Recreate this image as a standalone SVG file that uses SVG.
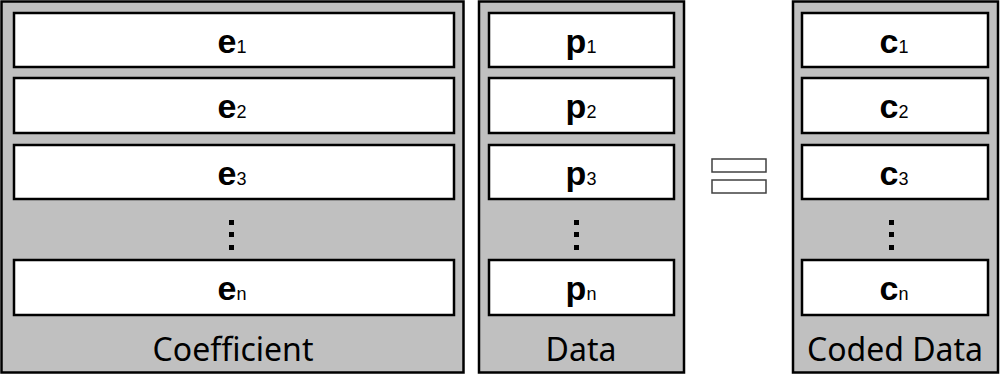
<svg xmlns="http://www.w3.org/2000/svg" width="1000" height="375" viewBox="0 0 1000 375">
<style>
.panel{fill:#c0c0c0;stroke:#000;stroke-width:2.5}
.cell{fill:#fff;stroke:#000;stroke-width:2.5}
.v{font-family:"Liberation Sans",Arial,sans-serif;font-weight:bold;font-size:34px;fill:#000}
.s{font-weight:normal;font-size:18px}
.lbl{font-family:"Noto Sans","Open Sans",sans-serif;font-size:32px;fill:#000;text-anchor:middle}
.dot{fill:#000}
.eq{fill:#fff;stroke:#404040;stroke-width:1.5}
</style>
<rect width="1000" height="375" fill="#fff"/>
<g id="coefficient">
<rect class="panel" x="1.5" y="1.5" width="462" height="371"/>
<rect class="cell" x="14" y="13" width="440" height="54"/>
<rect class="cell" x="14" y="78" width="440" height="55"/>
<rect class="cell" x="14" y="145" width="440" height="54"/>
<rect class="cell" x="14" y="260" width="440" height="55"/>
<text class="v" x="232" y="53" text-anchor="middle">e<tspan class="s">1</tspan></text>
<text class="v" x="232" y="118" text-anchor="middle">e<tspan class="s">2</tspan></text>
<text class="v" x="232" y="185" text-anchor="middle">e<tspan class="s">3</tspan></text>
<text class="v" x="232" y="300" text-anchor="middle">e<tspan class="s">n</tspan></text>
<rect class="dot" x="229" y="220" width="5" height="5"/>
<rect class="dot" x="229" y="232" width="5" height="5"/>
<rect class="dot" x="229" y="245" width="5" height="5"/>
<text class="lbl" x="233" y="361">Coefficient</text>
</g>
<g id="data">
<rect class="panel" x="479" y="1.5" width="205" height="371"/>
<rect class="cell" x="489" y="13" width="185" height="54"/>
<rect class="cell" x="489" y="78" width="185" height="55"/>
<rect class="cell" x="489" y="145" width="185" height="54"/>
<rect class="cell" x="489" y="260" width="185" height="55"/>
<text class="v" x="581" y="53" text-anchor="middle">p<tspan class="s">1</tspan></text>
<text class="v" x="581" y="118" text-anchor="middle">p<tspan class="s">2</tspan></text>
<text class="v" x="581" y="185" text-anchor="middle">p<tspan class="s">3</tspan></text>
<text class="v" x="581" y="300" text-anchor="middle">p<tspan class="s">n</tspan></text>
<rect class="dot" x="574" y="220" width="5" height="5"/>
<rect class="dot" x="574" y="232" width="5" height="5"/>
<rect class="dot" x="574" y="245" width="5" height="5"/>
<text class="lbl" x="581" y="361">Data</text>
</g>
<g id="equals">
<rect class="eq" x="712" y="159" width="54" height="13"/>
<rect class="eq" x="712" y="180" width="54" height="13"/>
</g>
<g id="coded-data">
<rect class="panel" x="793" y="1.5" width="205" height="371"/>
<rect class="cell" x="802" y="13" width="186" height="54"/>
<rect class="cell" x="802" y="78" width="186" height="55"/>
<rect class="cell" x="802" y="145" width="186" height="54"/>
<rect class="cell" x="802" y="260" width="186" height="55"/>
<text class="v" x="894" y="53" text-anchor="middle">c<tspan class="s">1</tspan></text>
<text class="v" x="894" y="118" text-anchor="middle">c<tspan class="s">2</tspan></text>
<text class="v" x="894" y="185" text-anchor="middle">c<tspan class="s">3</tspan></text>
<text class="v" x="894" y="300" text-anchor="middle">c<tspan class="s">n</tspan></text>
<rect class="dot" x="889" y="220" width="5" height="5"/>
<rect class="dot" x="889" y="232" width="5" height="5"/>
<rect class="dot" x="889" y="245" width="5" height="5"/>
<text class="lbl" x="895" y="361">Coded Data</text>
</g>
<g id="connectors"/>
</svg>
